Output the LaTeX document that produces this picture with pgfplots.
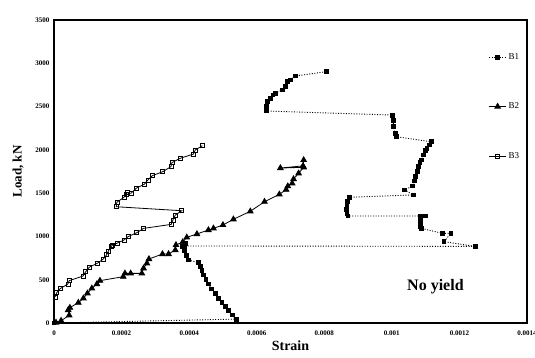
\documentclass[border=0pt]{standalone}
\usepackage{fontspec}
\setmainfont{Liberation Serif}
\usepackage{pgfplots}
\pgfplotsset{compat=1.18}
\usepackage{pgfplotstable}

% Load--strain readings for the three specimens
\pgfplotstableread{
x y
0 0
0.000539 45
0.000527 92
0.000516 142
0.000507 188
0.000497 235
0.000487 285
0.000477 343
0.000467 393
0.000457 450
0.000450 505
0.000442 554
0.000438 604
0.000433 650
0.000428 696
0.000398 728
0.000391 777
0.000385 834
0.000381 880
0.000388 920
0.000385 890
0.001247 885
0.001154 939
0.001175 1036
0.001150 1036
0.001087 1093
0.001084 1113
0.001084 1150
0.001085 1190
0.001084 1228
0.001099 1236
0.000870 1236
0.000867 1270
0.000866 1310
0.000867 1344
0.000869 1402
0.000875 1452
0.001065 1480
0.001037 1536
0.001062 1582
0.001067 1640
0.001070 1690
0.001075 1748
0.001079 1806
0.001083 1850
0.001087 1883
0.001094 1940
0.001100 1990
0.001104 2017
0.001111 2056
0.001116 2094
0.001013 2152
0.001010 2190
0.001005 2267
0.001004 2344
0.001002 2402
0.000628 2449
0.000628 2499
0.000632 2557
0.000640 2596
0.000648 2634
0.000655 2653
0.000675 2691
0.000684 2737
0.000691 2788
0.000699 2807
0.000714 2853
0.000806 2903
}\dataBone

\pgfplotstableread{
x y
0.000006 5
0.000021 27
0.000045 89
0.000042 150
0.000047 177
0.000072 235
0.000087 285
0.000099 343
0.000112 400
0.000127 450
0.000136 489
0.000205 535
0.000210 573
0.000227 573
0.000260 573
0.000265 632
0.000275 689
0.000281 739
0.000321 797
0.000339 797
0.000359 843
0.000361 901
0.000381 935
0.000393 989
0.000423 1028
0.000457 1074
0.000472 1093
0.000500 1132
0.000531 1198
0.000581 1290
0.000623 1401
0.000667 1486
0.000687 1540
0.000692 1580
0.000705 1613
0.000709 1663
0.000724 1729
0.000739 1798
0.000670 1790
0.000737 1815
0.000739 1883
}\dataBtwo

\pgfplotstableread{
x y
0.000003 300
0.000008 350
0.000018 396
0.000041 450
0.000045 489
0.000086 543
0.000094 593
0.000104 643
0.000128 690
0.000146 739
0.000156 789
0.000161 832
0.000169 882
0.000173 901
0.000186 920
0.000207 958
0.000219 997
0.000245 1043
0.000265 1093
0.000347 1139
0.000352 1190
0.000359 1247
0.000378 1297
0.000184 1343
0.000186 1394
0.000207 1452
0.000213 1490
0.000217 1505
0.000228 1498
0.000243 1555
0.000268 1605
0.000278 1652
0.000291 1702
0.000322 1748
0.000346 1806
0.000349 1852
0.000373 1902
0.000413 1952
0.000418 1998
0.000439 2048
}\dataBthree

\begin{document}
\begin{tikzpicture}
\begin{axis}[
  name=ax,
  scale only axis,
  width=473pt, height=303pt,
  xmin=0, xmax=0.0014,
  ymin=0, ymax=3500,
  scaled x ticks=false,
  scaled y ticks=false,
  xtick={0,0.0002,0.0004,0.0006,0.0008,0.001,0.0012,0.0014},
  xticklabels={0,0.0002,0.0004,0.0006,0.0008,0.001,0.0012,0.0014},
  ytick={0,500,1000,1500,2000,2500,3000,3500},
  yticklabels={0,500,1000,1500,2000,2500,3000,3500},
  major tick length=0pt,
  axis line style={line width=1.1pt},
  ticklabel style={font=\fontsize{7}{8}\selectfont\bfseries},
  /pgf/number format/assume math mode=true,
  xticklabel style={yshift=-4pt},
  yticklabel style={xshift=-1pt},
  xlabel={Strain},
  ylabel={Load, kN},
  xlabel style={font=\fontsize{14}{16}\selectfont\bfseries, at={(axis description cs:0.5,-0.076)}, anchor=center},
  ylabel style={font=\fontsize{13}{15}\selectfont\bfseries, at={(axis description cs:-0.076,0.5)}, anchor=center},
  legend cell align=left,
  legend style={at={(rel axis cs:0.988,0.897)}, anchor=north east, draw=none, fill=none,
    inner sep=0pt, row sep=38pt, font=\fontsize{9}{10}\selectfont},
]
\addplot[black, line width=0.9pt, dash pattern=on 1pt off 1.6pt,
  mark=square*, mark size=1.9pt, mark options={solid, fill=black}]
  table[x=x, y=y] {\dataBone};
\addlegendentry{B1}
\addplot[black, line width=0.8pt, mark=triangle*, mark size=3.2pt,
  mark options={solid, fill=black}]
  table[x=x, y=y] {\dataBtwo};
\addlegendentry{B2}
\addplot[black, line width=0.8pt, mark=square, mark size=2pt,
  mark options={solid, fill=white, line width=0.6pt}]
  table[x=x, y=y] {\dataBthree};
\addlegendentry{B3}
\node[font=\fontsize{16}{18}\selectfont\bfseries] at (axis cs:0.001129,416) {No yield};
\end{axis}
\pgfresetboundingbox
\path ([shift={(-54pt,-35pt)}]ax.south west) rectangle ([shift={(8pt,20pt)}]ax.north east);
\end{tikzpicture}
\end{document}
